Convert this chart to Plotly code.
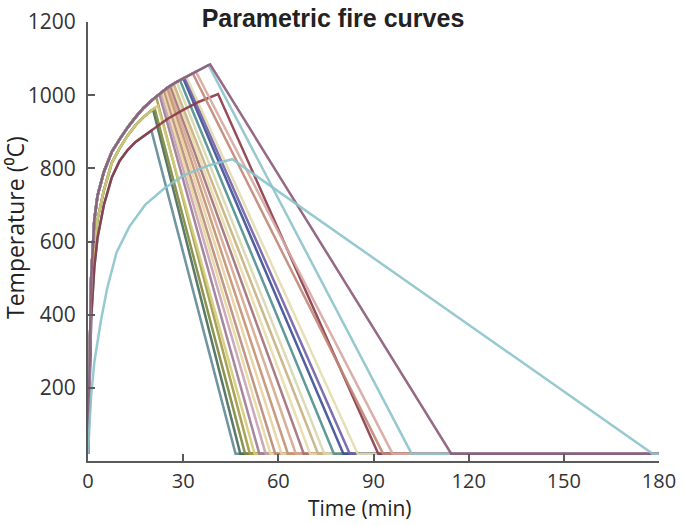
import plotly.graph_objects as go

# ---- heating envelopes (time in min, temperature in degC)
ENV_A_TIME = [0, 0.5, 1, 2, 3, 5, 7.5, 10, 12.5, 15, 17.5, 20, 22.5, 25, 27.5, 30, 32.5, 35, 37.5]
ENV_A_TEMP = [20, 330, 500, 660, 725, 790, 845, 880, 912, 940, 965, 985, 1003, 1020, 1034, 1046, 1058, 1069, 1080]

ENV_B_TIME = [0, 0.5, 1, 2, 3, 5, 7.5, 10, 12.5, 15, 17.5, 20]
ENV_B_TEMP = [20, 290, 440, 590, 660, 740, 815, 855, 890, 918, 940, 958]

ENV_C_TIME = [0, 0.5, 1, 2, 3, 5, 7.5, 10, 12.5, 15, 17.5, 20, 25, 30, 35]
ENV_C_TEMP = [20, 250, 390, 530, 610, 700, 775, 821, 850, 872, 888, 903, 935, 960, 982]

ENV_D_TIME = [0, 1, 2, 4, 6, 9, 13, 18, 24, 30, 38]
ENV_D_TEMP = [20, 180, 270, 380, 470, 570, 640, 700, 745, 780, 808]

# ---- individual curves: envelope, peak time, peak temperature, end of cooling
CURVE_ENVELOPE = ['C', 'B', 'B', 'A', 'B', 'A', 'A', 'A', 'A', 'A', 'A', 'A', 'A',
                  'A', 'A', 'A', 'A', 'A', 'A', 'A', 'C', 'A', 'A', 'A', 'A', 'D']
PEAK_TIME = [20.0, 20.5, 21.0, 21.5, 22.0, 22.5, 23.0, 23.5, 24.0, 24.5, 25.0, 25.5, 26.0,
             26.5, 27.0, 28.0, 29.0, 30.0, 30.5, 31.0, 41.0, 33.0, 34.0, 38.0, 38.5, 45.5]
PEAK_TEMP = [903, 961, 964, 996, 971, 1003, 1006, 1010, 1013, 1016, 1020, 1023, 1026,
             1028, 1031, 1036, 1041, 1046, 1048, 1051, 1003, 1060, 1065, 1082, 1084, 825]
END_TIME = [46.5, 48.0, 49.5, 51.0, 52.5, 54.0, 56.0, 57.5, 59.0, 61.0, 63.0, 65.5, 68.0,
            70.0, 72.5, 74.5, 77.5, 80.5, 82.5, 85.0, 91.5, 93.0, 96.0, 102.0, 114.5, 178.0]
AMBIENT = 20
T_LAST = 180

CURVE_COLORS = ['#5f8a96', '#4a6b5a', '#7d8a3c', '#a39a45', '#d4cc7a', '#9c7a94', '#c7a0b4',
                '#e6d9a0', '#b88a7a', '#e8d0a0', '#c49070', '#d7a890', '#a0707a', '#e8dca8',
                '#c8b080', '#d8d8b0', '#4f8f90', '#3d4f95', '#7060a8', '#e5ddb0', '#8a3a4a',
                '#c08878', '#d8a8a0', '#8ec4cc', '#8a5a78', '#8cc4cc']

X_TICKS = [0, 30, 60, 90, 120, 150, 180]
Y_TICKS = [200, 400, 600, 800, 1000, 1200]

envelopes = {
    'A': (ENV_A_TIME, ENV_A_TEMP),
    'B': (ENV_B_TIME, ENV_B_TEMP),
    'C': (ENV_C_TIME, ENV_C_TEMP),
    'D': (ENV_D_TIME, ENV_D_TEMP),
}

fig = go.Figure()
for env, pt, pT, et, col in zip(CURVE_ENVELOPE, PEAK_TIME, PEAK_TEMP, END_TIME, CURVE_COLORS):
    et_list, eT_list = envelopes[env]
    xs = [t for t in et_list if t < pt] + [pt, et, T_LAST]
    ys = [T for t, T in zip(et_list, eT_list) if t < pt] + [pT, AMBIENT, AMBIENT]
    fig.add_trace(go.Scatter(x=xs, y=ys, mode='lines',
                             line=dict(color=col, width=2.5),
                             opacity=0.9, showlegend=False, hoverinfo='skip'))

axis_col = '#5a5a5a'
PL, PR, PT, PB = 88, 26, 22, 64
PW, PH = 685 - PL - PR, 525 - PT - PB
fig.update_layout(
    width=685, height=525,
    paper_bgcolor='white', plot_bgcolor='white',
    margin=dict(l=PL, r=PR, t=PT, b=PB),
    title=dict(text='<b>Parametric fire curves</b>', x=333 / 685, xref='container', xanchor='center',
               y=1 - 18 / 525, yref='container', yanchor='middle',
               font=dict(family='Liberation Sans, Arial', size=25, color='#222')),
    font=dict(family='Open Sans, Noto Sans, sans-serif', size=20, color='#333'),
)
fig.update_xaxes(range=[0, 180], tickvals=X_TICKS, showgrid=False, zeroline=False,
                 showline=True, linecolor=axis_col, linewidth=2, automargin=False,
                 ticks='inside', ticklen=7, tickwidth=2, tickcolor=axis_col,
                 ticklabelstandoff=1,
                 tickfont=dict(size=20, color='#333'))
fig.update_yaxes(range=[0, 1200], tickvals=Y_TICKS, showgrid=False, zeroline=False,
                 showline=True, linecolor=axis_col, linewidth=2, automargin=False,
                 ticks='inside', ticklen=7, tickwidth=2, tickcolor=axis_col,
                 ticklabelstandoff=6,
                 tickfont=dict(size=21, color='#333'))

fig.add_annotation(text='Time (min)', xref='paper', yref='paper',
                   x=(360 - PL) / PW, y=-(508 - (525 - PB)) / PH,
                   showarrow=False, xanchor='center', yanchor='middle',
                   font=dict(size=21, color='#222'))
fig.add_annotation(text='Temperature (⁰C)', xref='paper', yref='paper',
                   x=-(PL - 15) / PW, y=((525 - PB) - 228) / PH, textangle=-90,
                   showarrow=False, xanchor='center', yanchor='middle',
                   font=dict(size=23, color='#222'))

fig.write_html('out.html', config={'displayModeBar': False},
               post_script="document.body.style.margin='0px';")
